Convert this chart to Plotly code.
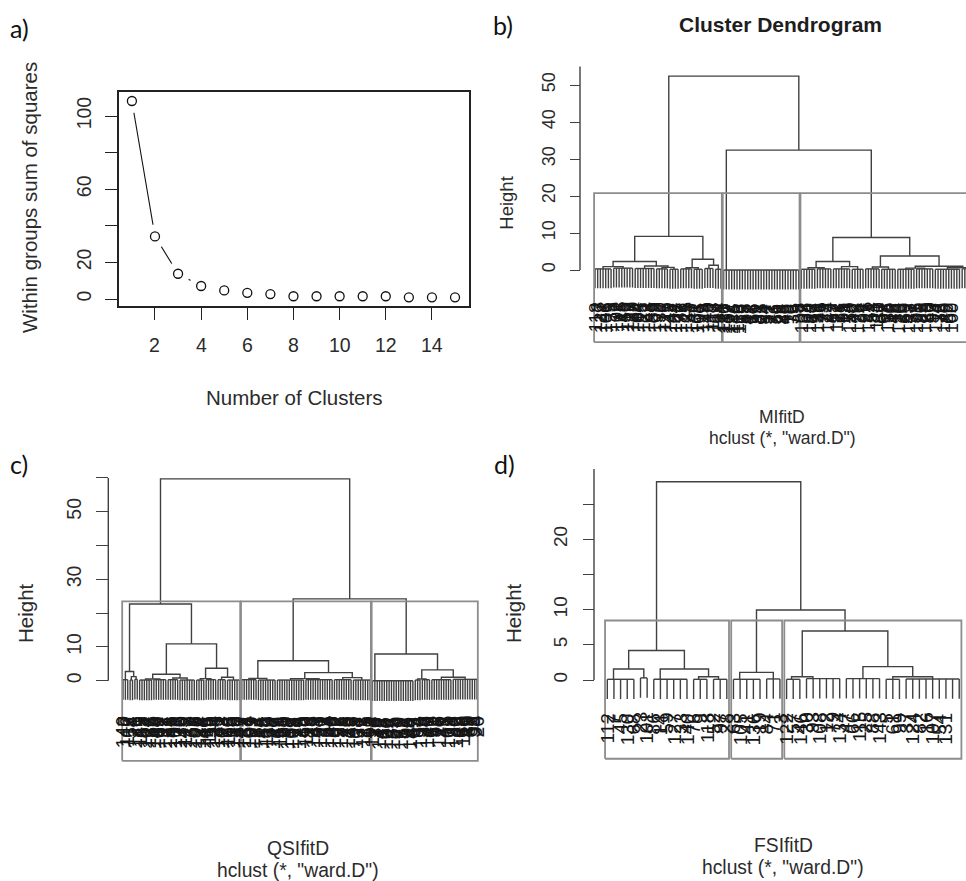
import plotly.graph_objects as go

W, H = 966, 881
FONT = "Liberation Sans, Arial, Helvetica, sans-serif"
LETTER_FONT = "Lato, Open Sans, sans-serif"
TXT = "#2b2b2b"
LINE = "#404040"
RECT = "#8c8c8c"

# ---------------- panel a data ----------------
A_K = list(range(1, 16))
A_WSS = [108.2, 34.2, 13.8, 7.1, 4.7, 3.4, 2.7, 1.5, 1.5, 1.5, 1.5, 1.5, 0.9, 0.9, 0.9]
A_XTICKS = [2, 4, 6, 8, 10, 12, 14]
A_YTICKS = [0, 20, 40, 60, 80, 100]
A_YTICKTEXT = ["0", "20", "", "60", "", "100"]

# ---------------- dendrogram data ----------------
# node = (height, left, right); leaf group = (height, n_leaves) or (height, n_leaves, "chain")
TREE_B = (52.4,
          (9.1,
           (2.3, (0.9, (0.3, 7), (0.5, 8)), (1.1, (0.4, 8), (0.7, (0.3, 5), (0.2, 4)))),
           (2.9, (0.6, (0.3, 5), (0.2, 4)), (1.3, (0.4, 4), (0.2, 3)))),
          (32.4,
           (0.0, 29, "chain"),
           (8.8,
            (2.3, (0.6, (0.2, 6), (0.3, 6)), (0.9, (0.3, 7), (0.2, 5))),
            (3.8, (0.8, (0.3, 6), (0.2, 6)),
             (1.0, (0.5, (0.2, 7), (0.3, 7)), (0.6, (0.2, 10), (0.3, 13)))))))

TREE_C = (59.7,
          (22.7,
           (2.7, (0.3, 3), (1.2, (0.2, 2), (0.4, 2))),
           (10.9,
            (1.9, (0.5, (0.2, 6), (0.3, 6)), (0.8, (0.3, 5), (0.2, 7))),
            (3.7, (0.6, (0.2, 4), (0.3, 5)), (1.0, (0.3, 4), (0.2, 6))))),
          (24.2,
           (5.9,
            (0.7, (0.3, 7), (0.2, 8)),
            (2.4, (0.6, (0.2, 12), (0.3, 12)), (0.9, (0.3, 8), (0.2, 8)))),
           (7.9,
            (0.0, 18, "chain"),
            (3.2, (0.5, (0.2, 3), (0.3, 4)), (1.0, (0.3, 9), (0.4, 11))))))

TREE_D = (28.2,
          (4.2,
           (1.56, (0.1, 5, "chain"), (0.3, 2)),
           (1.56, (0.1, 6, "chain"), (0.47, (0.1, 3, "chain"), (0.1, 3, "chain")))),
          (9.96,
           (1.09, (0.1, 5, "chain"), (0.15, 3)),
           (6.97,
            (0.47, (0.1, 3, "chain"), (0.2, 6, "chain")),
            (1.9, (0.2, 6), (0.47, (0.1, 3), (0.15, 9))))))

LABELS_B = ("118 3 127 41 106 9 133 72 101 18 145 56 112 27 139 84 104 15 121 63 148 35 109 92 130 7 115 49 142 24 "
            "103 77 136 11 125 58 147 31 108 96 119 44 140 2 113 69 134 21 "
            "110 137 102 124 146 116 128 53 88 47 13 66 39 81 25 94 57 17 73 36 61 29 86 45 19 70 33 5 8 "
            "107 38 64 122 12 99 131 46 75 23 144 87 52 117 28 65 91 14 150 42 79 126 34 97 6 141 54 83 111 30 "
            "67 98 135 16 48 74 120 26 89 55 143 37 71 105 22 85 129 60 40 93 114 32 78 149 20 62 100 43 95 138 "
            "10 68 123 51 80 132 4 59 82 141 1 76 90").split()
LABELS_C = ("140 7 112 58 3 126 41 119 85 104 27 133 66 148 12 109 92 37 121 54 143 19 101 76 130 45 115 8 137 61 "
            "106 29 124 88 146 15 111 50 128 33 141 72 103 24 118 95 135 10 150 47 "
            "2 131 64 107 39 122 81 14 145 56 113 30 98 127 43 69 116 21 90 138 52 105 17 74 129 35 60 110 83 26 "
            "147 48 97 120 11 67 134 40 86 102 22 57 125 78 13 139 46 93 108 31 71 117 5 62 99 "
            "114 36 79 142 18 63 100 44 87 123 9 70 132 51 96 28 144 65 4 84 136 38 77 149 23 59 91 16 127 49 "
            "73 6 101 34 80 142 25 68 119 42 89 1 55 94 20").split()
LABELS_D = ("112 7 45 130 68 23 101 86 14 59 127 33 140 76 9 118 52 97 28 63 105 41 136 19 84 71 3 122 57 146 "
            "30 93 108 12 79 134 47 66 115 25 88 143 5 61 99 37 124 82 16 107 54 131 70 20").split()

B_YTICKS = [0, 10, 20, 30, 40, 50]
B_YTICKTEXT = ["0", "10", "20", "30", "40", "50"]
C_YTICKS = [0, 10, 20, 30, 40, 50, 60]
C_YTICKTEXT = ["0", "10", "", "30", "", "50", ""]
D_YTICKS = [0, 5, 10, 15, 20, 25]
D_YTICKTEXT = ["0", "5", "10", "", "20", ""]
AXIS_TOP = {"b": 55, "c": 60, "d": 30}
RECT_BOTTOM = {"b": -19.5, "c": -23.7, "d": -11.2}
K_CUT = 3
HANG = 0.1

SUBTITLES = {"b": "MIfitD", "c": "QSIfitD", "d": "FSIfitD"}
METHOD = 'hclust (*, "ward.D")'


# ---------------- helpers ----------------
def is_group(node):
    return isinstance(node[1], int)


def n_leaves(node):
    return node[1] if is_group(node) else n_leaves(node[1]) + n_leaves(node[2])


def merge_heights(node):
    if is_group(node):
        return [node[0]] * (node[1] - 1)
    return [node[0]] + merge_heights(node[1]) + merge_heights(node[2])


def layout_tree(node, state, xs, ys, leaves):
    if is_group(node):
        h, n = node[0], node[1]
        pos = list(range(state[0], state[0] + n))
        state[0] += n
        for p in pos:
            leaves.append((p, h))
        if n > 1:
            xs += [pos[0], pos[-1], None]
            ys += [h, h, None]
        if len(node) > 2:  # chained merges
            a = pos[-1]
            for p in reversed(pos[:-1]):
                a = (p + a) / 2
        else:
            a = (pos[0] + pos[-1]) / 2
        return a, h
    h = node[0]
    xl, hl = layout_tree(node[1], state, xs, ys, leaves)
    xr, hr = layout_tree(node[2], state, xs, ys, leaves)
    xs += [xl, xl, xr, xr, None]
    ys += [hl, h, h, hr, None]
    return (xl + xr) / 2, h


def cut(tree, k):
    clusters = [tree]
    while len(clusters) < k:
        cand = [i for i, c in enumerate(clusters) if not is_group(c)]
        j = max(cand, key=lambda i: clusters[i][0])
        c = clusters[j]
        clusters[j:j + 1] = [c[1], c[2]]
    return clusters


fig = go.Figure()
annotations = []
shapes = []
layout = {}


def px_x(px):
    return px / W


def px_y(py):
    return 1 - py / H


def text_ann(txt, x, y, size, angle=0, family=FONT, color=TXT):
    annotations.append(dict(text=txt, x=px_x(x), y=px_y(y), xref="paper", yref="paper",
                            showarrow=False, xanchor="center", yanchor="middle",
                            textangle=angle, font=dict(family=family, size=size, color=color)))


# ---------------- panel a ----------------
fig.add_trace(go.Scatter(x=A_K, y=A_WSS, mode="lines", line=dict(color="#111", width=1.1),
                         xaxis="x", yaxis="y", hoverinfo="skip", showlegend=False))
fig.add_trace(go.Scatter(x=A_K, y=A_WSS, mode="markers", marker=dict(size=24, color="white"),
                         xaxis="x", yaxis="y", hoverinfo="skip", showlegend=False))
fig.add_trace(go.Scatter(x=A_K, y=A_WSS, mode="markers",
                         marker=dict(size=9, symbol="circle-open", color="#111", line=dict(width=1.3)),
                         xaxis="x", yaxis="y", showlegend=False))

aL, aR, aT, aB = 119, 469, 92, 306
ax0, adx = 131.9, 23.08
ay0, ady = 299, 1.83
layout["xaxis"] = dict(domain=[px_x(aL), px_x(aR)], range=[(aL - ax0) / adx + 1, (aR - ax0) / adx + 1],
                       tickvals=A_XTICKS, ticks="outside", ticklen=12, tickwidth=1.3, tickcolor="#222",
                       showline=True, mirror=True, linecolor="#222", linewidth=1.5,
                       showgrid=False, zeroline=False, anchor="y", showticklabels=False)
layout["yaxis"] = dict(domain=[px_y(aB), px_y(aT)], range=[(ay0 - aB) / ady, (ay0 - aT) / ady],
                       tickvals=A_YTICKS, ticktext=A_YTICKTEXT, ticks="outside", ticklen=12, tickwidth=1.3,
                       tickcolor="#222", showline=True, mirror=True, linecolor="#222", linewidth=1.5,
                       showgrid=False, zeroline=False, anchor="x", tickangle=-90,
                       tickfont=dict(family=FONT, size=19.5, color=TXT), ticklabelstandoff=6)
for t in A_XTICKS:
    annotations.append(dict(text=str(t), x=t, y=px_y(345), xref="x", yref="paper", showarrow=False,
                            xanchor="center", yanchor="middle",
                            font=dict(family=FONT, size=19.5, color=TXT)))
text_ann("Within groups sum of squares", 30, 198, 20.5, angle=-90)
text_ann("Number of Clusters", 294, 397, 20.5)

# ---------------- dendrogram panels ----------------
GEOM = {
    "b": dict(n=2, x0=595, dx=2.68, y0=270, dy=3.7, L=584, R=966, T=50, B=352, axis_px=580,
              ticklen=10, tickfs=18, labfs=18.5, gap=12, tree=TREE_B, labels=LABELS_B,
              yt=B_YTICKS, ytt=B_YTICKTEXT, hx=506.7, hy=203, hfs=18.5, sx=782, sy1=417, sy2=438, sfs=17.5),
    "c": dict(n=3, x0=123, dx=2.376, y0=680.7, dy=3.38, L=112, R=488, T=465, B=770, axis_px=108.3,
              ticklen=12, tickfs=19.5, labfs=19.5, gap=14, tree=TREE_C, labels=LABELS_C,
              yt=C_YTICKS, ytt=C_YTICKTEXT, hx=25, hy=613, hfs=20.5, sx=298, sy1=848, sy2=870, sfs=19.3),
    "d": dict(n=4, x0=607.3, dx=6.64, y0=680, dy=7.03, L=598, R=966, T=466, B=770, axis_px=594,
              ticklen=11, tickfs=19, labfs=19, gap=12, tree=TREE_D, labels=LABELS_D,
              yt=D_YTICKS, ytt=D_YTICKTEXT, hx=513, hy=613, hfs=20.5, sx=783, sy1=845, sy2=867, sfs=19.3),
}

for key, g in GEOM.items():
    n = g["n"]
    tree = g["tree"]
    xs, ys, leaves = [], [], []
    layout_tree(tree, [0], xs, ys, leaves)
    hang = HANG * tree[0]
    for (p, h) in leaves:
        xs += [p, p, None]
        ys += [h, h - hang, None]
    fig.add_trace(go.Scatter(x=xs, y=ys, mode="lines", line=dict(color=LINE, width=1.4),
                             xaxis=f"x{n}", yaxis=f"y{n}", hoverinfo="skip", showlegend=False))

    # rect.hclust(k=3)
    hs = sorted(merge_heights(tree), reverse=True)
    top = (hs[K_CUT - 2] + hs[K_CUT - 1]) / 2
    rx, ry = [], []
    start = 0
    for c in cut(tree, K_CUT):
        cnt = n_leaves(c)
        l, r = start - 0.34, start + cnt - 1 + 0.33
        rb = RECT_BOTTOM[key]
        rx += [l, r, r, l, l, None]
        ry += [rb, rb, top, top, rb, None]
        start += cnt
    fig.add_trace(go.Scatter(x=rx, y=ry, mode="lines", line=dict(color=RECT, width=1.8),
                             xaxis=f"x{n}", yaxis=f"y{n}", hoverinfo="skip", showlegend=False))

    # leaf labels (only those whose glyphs fit inside the page)
    labels = g["labels"]
    for i, (p, h) in enumerate(leaves):
        lab = labels[i] if i < len(labels) else ""
        if g["x0"] + p * g["dx"] > W - 14:
            continue
        annotations.append(dict(text=lab, x=p, y=h - hang, xref=f"x{n}", yref=f"y{n}",
                                showarrow=False, textangle=-90, xanchor="center", yanchor="top",
                                yshift=-g["gap"], font=dict(family=FONT, size=g["labfs"], color="#151515")))

    L, R, T, B = g["L"], g["R"], g["T"], g["B"]
    layout[f"xaxis{n}"] = dict(domain=[px_x(L), px_x(R)],
                               range=[(L - g["x0"]) / g["dx"], (R - g["x0"]) / g["dx"]],
                               visible=False, anchor=f"y{n}")
    layout[f"yaxis{n}"] = dict(domain=[px_y(B), px_y(T)],
                               range=[(g["y0"] - B) / g["dy"], (g["y0"] - T) / g["dy"]],
                               anchor="free", position=px_x(g["axis_px"]),
                               tickvals=g["yt"], ticktext=g["ytt"], ticks="outside", ticklen=g["ticklen"],
                               tickwidth=1.4, tickcolor=LINE, showline=False, showgrid=False,
                               zeroline=False, tickangle=-90, ticklabelstandoff=8,
                               tickfont=dict(family=FONT, size=g["tickfs"], color=TXT))
    shapes.append(dict(type="line", xref="paper", yref=f"y{n}", x0=px_x(g["axis_px"]),
                       x1=px_x(g["axis_px"]), y0=0, y1=AXIS_TOP[key], line=dict(color=LINE, width=1.4)))
    text_ann("Height", g["hx"], g["hy"], g["hfs"], angle=-90)
    text_ann(SUBTITLES[key], g["sx"], g["sy1"], g["sfs"])
    text_ann(METHOD, g["sx"], g["sy2"], g["sfs"])

text_ann("<b>Cluster Dendrogram</b>", 780, 24, 21, color="#1e1e1e")

# panel letters
text_ann("a)", 19, 28, 25, family=LETTER_FONT, color="#111")
text_ann("b)", 503, 25, 25, family=LETTER_FONT, color="#111")
text_ann("c)", 19, 464, 25, family=LETTER_FONT, color="#111")
text_ann("d)", 504, 464, 25, family=LETTER_FONT, color="#111")

fig.update_layout(width=W, height=H, margin=dict(l=0, r=0, t=0, b=0), autosize=False,
                  paper_bgcolor="white", plot_bgcolor="white", showlegend=False,
                  annotations=annotations, shapes=shapes, **layout)

fig.write_html("out.html")
